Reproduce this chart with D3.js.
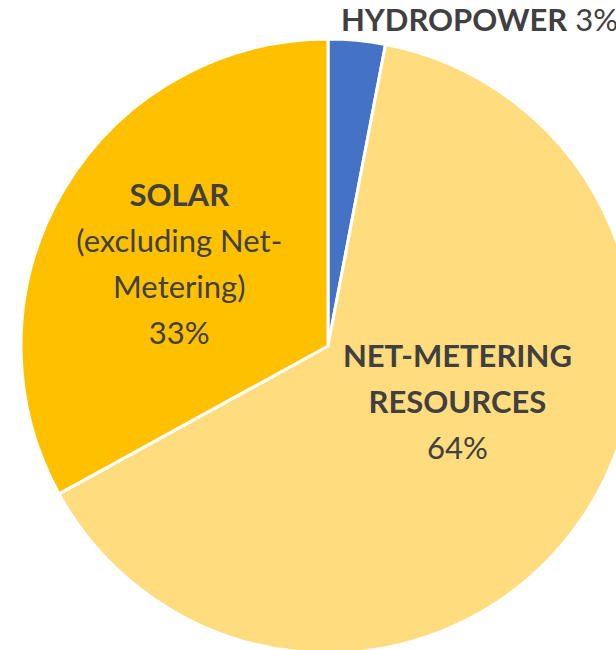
<!DOCTYPE html>
<html>
<head>
<meta charset="utf-8">
<script src="https://cdn.jsdelivr.net/npm/d3@7"></script>
<style>
  html, body { margin: 0; padding: 0; background: #fff; overflow: hidden; }
  svg { display: block; }
  text { font-family: Lato, "Open Sans", sans-serif; fill: #404040; }
</style>
</head>
<body>
<svg id="chart"></svg>
<script>
// data
const categories = ['HYDROPOWER', 'NET-METERING RESOURCES', 'SOLAR'];
const shares = [3, 64, 33];
const sliceColors = ['#4472C4', '#FFDC7D', '#FFC000'];
// label lines: bold name lines, then regular lines (percentage appended)
const boldLines = [['HYDROPOWER'], ['NET-METERING', 'RESOURCES'], ['SOLAR']];
const plainLines = [[], [], ['(excluding Net-', 'Metering)']];

const width = 616, height = 650;
const cx = 328, cy = 346, radius = 307;
const fontSize = 31, lineH = 46;

const svg = d3.select('#chart')
  .attr('width', width)
  .attr('height', height);

const g = svg.append('g').attr('transform', `translate(${cx},${cy})`);

const pie = d3.pie().sort(null).value(d => d);
const arcs = pie(shares);

const arc = d3.arc().innerRadius(0).outerRadius(radius);

g.selectAll('path.slice')
  .data(arcs)
  .enter()
  .append('path')
  .attr('class', 'slice')
  .attr('d', arc)
  .attr('fill', (d, i) => sliceColors[i])
  .attr('stroke', '#fff')
  .attr('stroke-width', 3)
  .attr('stroke-linejoin', 'round');

// label placement (Excel-like): inside labels near the centroid, hydro outside
function labelPos(d, r) {
  const a = (d.startAngle + d.endAngle) / 2;
  return [Math.sin(a) * r, -Math.cos(a) * r];
}

function blockLabel(i, x, yc) {
  const lines = boldLines[i].map(t => ({ t, b: true }))
    .concat(plainLines[i].map(t => ({ t, b: false })))
    .concat([{ t: shares[i] + '%', b: false }]);
  const y0 = yc - (lines.length - 1) * lineH / 2 + fontSize * 0.36;
  const txt = g.append('text').attr('text-anchor', 'middle').attr('font-size', fontSize);
  lines.forEach((l, k) => {
    txt.append('tspan')
      .attr('x', x)
      .attr('y', y0 + k * lineH)
      .attr('font-weight', l.b ? 700 : 400)
      .text(l.t);
  });
}

// solar label, inside
{
  const [x, y] = labelPos(arcs[2], 167);
  blockLabel(2, x - 5, y + 3);
}

// net-metering label, inside
{
  const [x, y] = labelPos(arcs[1], 160);
  blockLabel(1, x, y - 38);
}

// hydropower label, outside above the slice
{
  const i = 0;
  const [x, y] = labelPos(arcs[i], radius);
  const txt = g.append('text').attr('font-size', fontSize)
    .attr('x', x - 16)
    .attr('y', y - 9);
  txt.append('tspan').attr('font-weight', 700).text(boldLines[i][0]);
  txt.append('tspan').attr('font-weight', 400).text(' ' + shares[i] + '%');
}
</script>
</body>
</html>
